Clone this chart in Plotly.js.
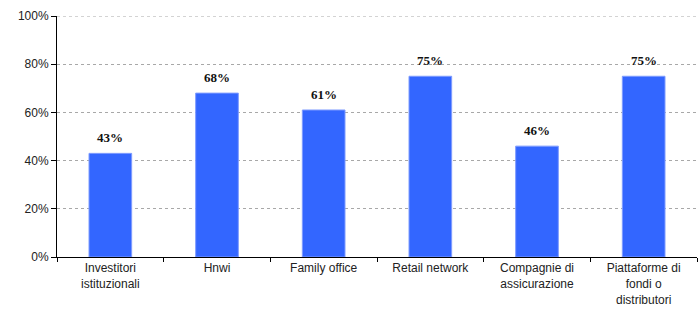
<!DOCTYPE html>
<html>
<head>
<meta charset="utf-8">
<script src="https://cdn.plot.ly/plotly-3.0.1.min.js"></script>
<style>html,body{margin:0;padding:0;background:#fff;}#chart{width:698px;height:320px;}</style>
</head>
<body>
<div id="chart"></div>
<script>
var categories = ["Investitori<br>istituzionali", "Hnwi", "Family office", "Retail network", "Compagnie di<br>assicurazione", "Piattaforme di<br>fondi o<br>distributori"];
var values = [43, 68, 61, 75, 46, 75];
var yTickVals = [0, 20, 40, 60, 80, 100];
var yTickText = ["0%", "20%", "40%", "60%", "80%", "100%"];

var trace = {
  type: "bar",
  x: categories,
  y: values,
  width: 0.4,
  marker: {color: "#3366FF", line: {color: "#7f9cff", width: 1}},
  hoverinfo: "none"
};

var annotations = categories.map(function(c, i){
  return {
    x: c, y: values[i], xref: "x", yref: "y",
    text: "<b>" + values[i] + "%</b>",
    showarrow: false, yanchor: "bottom", yshift: 6,
    font: {family: "Liberation Serif", size: 13, color: "#111"}
  };
});

var layout = {
  width: 698, height: 320,
  margin: {l: 57, r: 1, t: 16, b: 63},
  paper_bgcolor: "#fff", plot_bgcolor: "#fff",
  showlegend: false,
  font: {family: "Liberation Sans, Arial, sans-serif", size: 12, color: "#222"},
  xaxis: {
    type: "category",
    showline: true, linecolor: "#000", linewidth: 1,
    ticks: "outside", ticklen: 4, tickcolor: "#000",
    tickson: "boundaries",
    showgrid: false,
    tickfont: {size: 12, color: "#222"},
    fixedrange: true
  },
  yaxis: {
    range: [0, 100],
    tickvals: yTickVals, ticktext: yTickText,
    showline: true, linecolor: "#000", linewidth: 1,
    ticks: "outside", ticklen: 5, tickcolor: "#000",
    showgrid: true, gridcolor: "#a8a8a8", griddash: "3px,3px", gridwidth: 1,
    zeroline: false,
    tickfont: {size: 12, color: "#222"},
    fixedrange: true
  },
  shapes: [{
    type: "line", xref: "paper", yref: "y", x0: 0, x1: 1, y0: 100, y1: 100,
    line: {color: "#a8a8a8", width: 1, dash: "3px,3px"}, layer: "below"
  }],
  annotations: annotations
};

Plotly.newPlot("chart", [trace], layout, {displayModeBar: false, staticPlot: true});
</script>
</body>
</html>
